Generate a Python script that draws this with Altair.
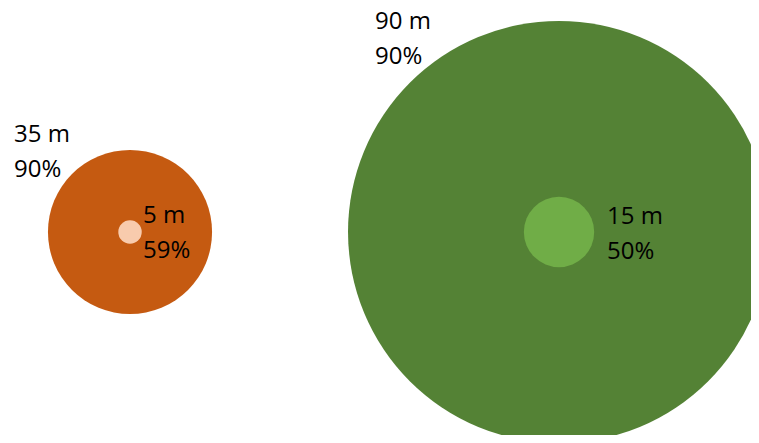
import altair as alt
import pandas as pd

groups = ["A", "A", "B", "B"]
roles = ["outer_A", "inner_A", "outer_B", "inner_B"]
x_pos = [1, 1, 2, 2]
y_pos = [1, 1, 1, 1]
distance_m = [35, 5, 90, 15]
percent = [90, 59, 90, 50]

df = pd.DataFrame({
    "group": groups,
    "role": roles,
    "x": x_pos,
    "y": y_pos,
    "dist": distance_m,
    "pct": percent,
})
df["label"] = [f"{d} m\n{p}%" for d, p in zip(distance_m, percent)]

colors = ["#C55A11", "#F8CBAD", "#548235", "#70AD47"]

xs = alt.Scale(domain=[0.7156, 2.4475], nice=False, zero=False)
ys = alt.Scale(domain=[0, 2.1034], nice=False, zero=False)

base = alt.Chart(df).encode(
    x=alt.X("x:Q", scale=xs, axis=None),
    y=alt.Y("y:Q", scale=ys, axis=None),
)

bubbles = base.mark_circle(opacity=1).encode(
    size=alt.Size("dist:Q", scale=alt.Scale(type="pow", exponent=2, domain=[0, 90], range=[0, 178084]), legend=None),
    color=alt.Color("role:N", scale=alt.Scale(domain=roles, range=colors), legend=None),
    order=alt.Order("dist:Q", sort="descending"),
)

offsets = {
    "outer_A": (-116, -90),
    "inner_A": (13, -9),
    "outer_B": (-184, -203),
    "inner_B": (48, -8),
}

text_layers = []
for r in roles:
    dx, dy = offsets[r]
    text_layers.append(
        base.transform_filter(alt.datum.role == r).mark_text(
            align="left", baseline="alphabetic", dx=dx, dy=dy,
            font="Open Sans", fontSize=24, lineBreak="\n", lineHeight=35, color="#000000"
        ).encode(text="label:N")
    )

chart = alt.layer(bubbles, *text_layers).properties(
    width=743, height=427,
    autosize=alt.AutoSizeParams(type="none"),
    padding=0,
    background="white",
).configure_view(stroke=None)

chart.save("out.html", embed_options={"renderer": "svg", "actions": False})
